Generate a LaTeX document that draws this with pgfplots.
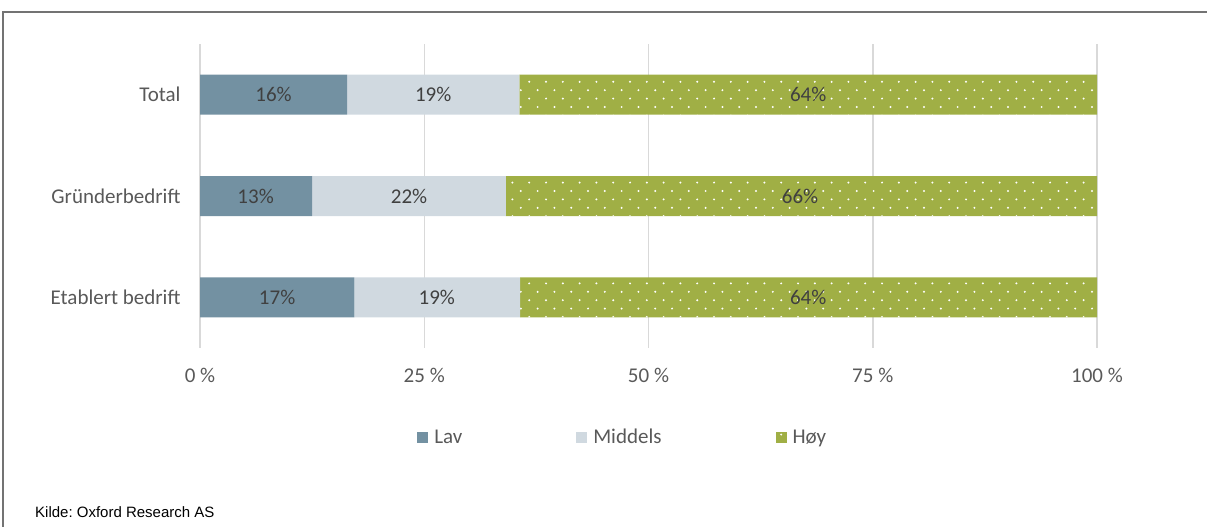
\documentclass[border=0pt]{standalone}
\usepackage{pgfplots}
\pgfplotsset{compat=1.18}
\usepackage{fontspec}
\setmainfont{Carlito}
\newfontfamily\arialfont{Liberation Sans}
\usetikzlibrary{patterns}
\frenchspacing
\definecolor{lav}{HTML}{7391A2}
\definecolor{mid}{HTML}{D0D9E0}
\definecolor{hoy}{HTML}{A0AF45}
\definecolor{txt}{HTML}{595959}
\definecolor{lbl}{HTML}{404040}
\definecolor{gridc}{HTML}{D9D9D9}
\pgfdeclarepatternformonly{sparsedots}{\pgfqpoint{-2bp}{-2bp}}{\pgfqpoint{19bp}{19bp}}{\pgfqpoint{16.8bp}{16.8bp}}{%
  \pgfpathcircle{\pgfqpoint{0bp}{0bp}}{1.1bp}%
  \pgfpathcircle{\pgfqpoint{8.4bp}{8.4bp}}{1.1bp}%
  \pgfusepath{fill}}
\pgfplotstableread{
y lav mid hoy
0 16.4 19.2 64.4
1 12.5 21.6 65.9
2 17.2 18.5 64.3
}\bars
\pgfplotstableread{
x y lab
8.2 0 16
26.0 0 19
67.8 0 64
6.2 1 13
23.3 1 22
66.9 1 66
8.6 2 17
26.4 2 19
67.8 2 64
}\labs
\begin{document}
\begin{tikzpicture}
\useasboundingbox (0bp,0bp) rectangle (1207bp,527bp);
\pgfplotsset{
  common/.style={
    at={(200bp,179bp)}, anchor=south west,
    scale only axis, width=897bp, height=304bp,
    xmin=0, xmax=100, ymin=-0.5, ymax=2.5, y dir=reverse,
    font=\fontsize{21bp}{25bp}\selectfont,
  }
}
\begin{axis}[common,
  xbar stacked, bar width=40bp,
  axis line style={draw=none}, major tick length=0pt,
  xtick={0,25,50,75,100},
  xticklabels={0 \%,25 \%,50 \%,75 \%,100 \%},
  ytick={0,1,2},
  yticklabels={Total,Gründerbedrift,Etablert bedrift},
  xticklabel style={text=txt, yshift=-17bp},
  yticklabel style={text=txt, xshift=-16bp},
  xmajorgrids, grid style={color=gridc, line width=1.5bp},
  legend columns=3,
  legend style={at={(0.242,-0.293)}, anchor=west, draw=none, fill=none, inner sep=0pt,
    font=\fontsize{21bp}{25bp}\selectfont\color{txt},
    /tikz/every even column/.append style={column sep=112bp}},
  legend image code/.code={\fill[#1] (0bp,-5.5bp) rectangle (11bp,5.5bp); \path (15bp,0bp);},
]
\addplot[fill=lav, draw=none] table[x=lav, y=y] {\bars};
\addlegendentry{Lav}
\addplot[fill=mid, draw=none] table[x=mid, y=y] {\bars};
\addlegendentry{Middels}
\addplot[fill=hoy, draw=none, postaction={pattern=sparsedots, pattern color=white}] table[x=hoy, y=y] {\bars};
\addlegendentry{Høy}
\end{axis}
\begin{axis}[common, hide axis]
\addplot[only marks, mark size=0pt, point meta=explicit symbolic,
  nodes near coords={\pgfplotspointmeta\%},
  every node near coord/.append style={anchor=center, text=lbl, font=\fontsize{21bp}{25bp}\selectfont}]
  table[x=x, y=y, meta=lab] {\labs};
\end{axis}
\draw[color=black!55, line width=1.5bp] (3bp,0bp) -- (3bp,515bp) -- (1207bp,515bp);
\node[anchor=base west, inner sep=0pt, font=\arialfont\fontsize{15bp}{18bp}\selectfont] at (35bp,10bp) {Kilde: Oxford Research AS};
\end{tikzpicture}
\end{document}
